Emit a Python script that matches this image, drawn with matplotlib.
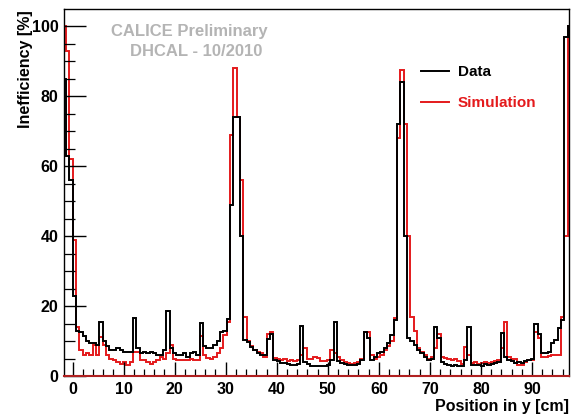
"""
DHCAL inefficiency versus y position, data against simulation.
Histogram step plot in the ROOT look.
"""
import numpy as np
import matplotlib
matplotlib.use('Agg')
import matplotlib.pyplot as plt

plt.rcParams.update({
    'font.family':      'Liberation Sans',
    'font.weight':      'bold',
    'font.size':        11,
    'axes.linewidth':   1.0,
    'xtick.direction':  'in',
    'ytick.direction':  'in',
    'figure.facecolor': 'white',
    'axes.facecolor':   'white',
})

# binning in y [cm]
BIN_LO = -1.93
BIN_W = 0.655

# inefficiency [%] per bin
data_ineff = [
    85, 63, 56, 23, 13, 12.5, 11.5, 10, 9.5, 9.5,
    9, 15.5, 10, 8.5, 7.5, 7.5, 8, 7.5, 7, 7,
    7, 16.5, 8, 6.5, 7, 6.5, 7, 6.5, 6, 6,
    7.5, 18.7, 8, 6.5, 6, 6, 6.5, 5.5, 6.5, 7,
    6, 15.2, 8.5, 8, 8, 9, 10, 12.5, 13, 16.3,
    49, 74, 74, 40, 10.3, 9.8, 8.3, 7.5, 6.5, 6,
    6, 10.7, 12, 4.6, 4.2, 3.7, 3.7, 3.5, 3.2, 3.1,
    3.5, 14.4, 4, 3.5, 3, 2.9, 2.9, 3, 2.8, 3.2,
    4.5, 15.5, 4.3, 3.8, 3.5, 3.3, 3.2, 3.3, 3.5, 4.5,
    12.7, 10.8, 4.6, 5.5, 6.5, 7, 8, 9.4, 11.7, 16,
    72, 84, 40, 11, 10, 8.8, 7.4, 6.5, 5.5, 4.6,
    5, 13.9, 11, 4, 3.5, 3.2, 3, 3.2, 2.8, 3,
    4.5, 13.9, 3.1, 3.2, 3.3, 3, 3.5, 3.2, 3.4, 3.6,
    4, 12.4, 5.5, 4.6, 4.2, 3.7, 4, 3.8, 4.2, 4.5,
    5, 15, 12, 6.5, 6.5, 7, 9.4, 10.3, 13.7, 16,
    97, 100,
]

sim_ineff = [
    100, 93, 62, 39, 14, 7.5, 6, 6.5, 6, 8.8,
    6, 11.2, 9, 6, 5, 4.5, 4, 3.5, 4, 3.3,
    4, 7, 6.8, 4.5, 4.5, 4, 3.5, 4, 4.5, 5.5,
    5, 6.5, 9, 5, 4.5, 4.5, 4.5, 4.5, 5, 4.5,
    4.5, 11.5, 6, 5.2, 5, 5.5, 6.5, 8, 11.7, 15.5,
    69, 88, 74, 56, 17, 10, 8.5, 7.5, 7, 6.5,
    5.5, 12, 12.5, 5.1, 5, 4.5, 4.8, 4.3, 4.5, 4.3,
    4.5, 6, 8, 4.8, 4.8, 5.5, 5.2, 4.3, 4.3, 4.5,
    7.4, 6.5, 5.5, 4.5, 4, 3.8, 3.5, 3.8, 4, 5,
    12.5, 12.5, 6, 5, 5.5, 6, 7.5, 8.5, 10, 16.5,
    68, 87.4, 72, 40, 17, 13, 8, 7, 6, 5,
    5.5, 8, 12, 5.5, 5.3, 5, 4.5, 4.8, 4.2, 3.5,
    8.4, 6, 3.7, 3.9, 3.4, 3.8, 4, 3.6, 4, 4.2,
    4.5, 8, 15.5, 5.5, 5, 4.8, 3.1, 3.3, 4, 4.5,
    4.5, 12.6, 11, 5.5, 5.5, 5.8, 6, 6, 6, 17,
    40, 100,
]

edges = BIN_LO + BIN_W * np.arange(len(data_ineff) + 1)

RED = '#e41a1c'

fig = plt.figure(figsize=(5.71, 4.16), dpi=100)
ax = fig.add_axes([0.112, 0.096, 0.885, 0.882])

ax.stairs(sim_ineff, edges, color=RED, linewidth=1.4, label='Simulation')
ax.stairs(data_ineff, edges, color='black', linewidth=1.4, label='Data')

ax.set_xlim(-1.68, 97.3)
ax.set_ylim(0, 104.9)

ax.set_xticks(np.arange(0, 100, 10))
ax.set_xticks(np.arange(0, 98, 2), minor=True)
ax.set_yticks(np.arange(0, 101, 20))
ax.set_yticks(np.arange(0, 105, 5), minor=True)
ax.tick_params(which='major', length=10, width=1.0, labelsize=11.5, pad=4)
ax.tick_params(which='minor', length=5, width=0.9)
ax.tick_params(axis='y', which='major', length=16)
ax.tick_params(axis='y', which='minor', length=8)
for lbl in ax.get_xticklabels() + ax.get_yticklabels():
    lbl.set_fontweight('bold')
ax.spines['bottom'].set_color('#b02020')
ax.spines['bottom'].set_linewidth(1.5)

fig.text(0.045, 0.975, 'Inefficiency [%]', rotation=90, ha='center', va='top',
         fontsize=11.5, fontweight='bold')
fig.text(0.997, 0.004, 'Position in y [cm]', ha='right', va='bottom',
         fontsize=11.5, fontweight='bold')

ax.text(0.248, 0.94, 'CALICE Preliminary', transform=ax.transAxes,
        ha='center', va='center', color='#b4b4b4', fontsize=12, fontweight='bold')
ax.text(0.262, 0.885, 'DHCAL - 10/2010', transform=ax.transAxes,
        ha='center', va='center', color='#b4b4b4', fontsize=12, fontweight='bold')

handles, labels = ax.get_legend_handles_labels()
leg = ax.legend(handles[::-1], labels[::-1], loc='upper left',
                bbox_to_anchor=(0.68, 0.885), frameon=False,
                handlelength=1.8, handletextpad=0.6, labelspacing=1.1,
                prop={'weight': 'bold', 'size': 11})
leg.get_texts()[1].set_color(RED)

fig.savefig('out.png', dpi=100)
